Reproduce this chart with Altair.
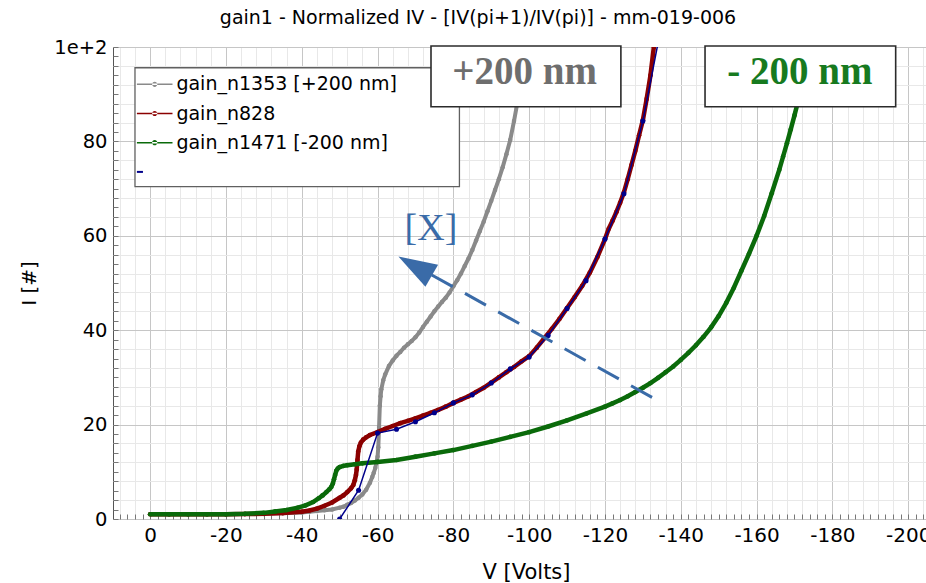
import altair as alt
import pandas as pd

TITLE = "gain1 - Normalized IV - [IV(pi+1)/IV(pi)] - mm-019-006"

SERIES = ["gain_n1353 [+200 nm]", "gain_n828", "gain_n1471 [-200 nm]", "fit"]
COLORS = ["#8a8a8a", "#8b0000", "#0a6a0a", "#00008b"]

# gain_n1353 [+200 nm]
gray_v = [0, -5, -10, -15, -20, -25, -30, -35, -40, -42, -44, -46, -48, -50, -51, -52,
          -53, -54, -55, -56, -57, -58, -58.6, -59, -59.4, -59.7, -60, -60.2, -60.4,
          -60.6, -60.8, -61, -61.5, -62, -63, -64, -65, -66, -67, -68, -69, -70, -71,
          -72, -73, -74, -75, -76, -77, -78, -79, -80, -81, -82, -83, -84, -85, -86,
          -87, -88, -89, -90, -91, -92, -93, -94, -95, -96, -97, -98, -99, -99.6]
gray_i = [1, 1, 1, 1, 1, 1.05, 1.1, 1.2, 1.4, 1.55, 1.7, 1.85, 2.0, 2.4, 2.6, 3.0,
          3.4, 3.9, 4.5, 5.2, 6.2, 7.7, 8.9, 9.8, 10.8, 12, 13.2, 15.2, 19.5,
          24, 26, 27.5, 29.4, 30.6, 32.4, 33.6, 34.6, 35.4, 36.3, 37, 37.7, 38.5, 39.5,
          40.7, 41.8, 42.9, 44, 45, 46, 46.9, 48, 49.3, 50.6, 52, 53.6, 55.2, 57, 59,
          61, 63, 65.2, 67.4, 69.7, 72, 74.5, 77.3, 80.3, 84.3, 88.7, 93, 97.5, 100]

# gain_n828
red_v = [0, -5, -10, -15, -20, -25, -30, -35, -40, -42, -44, -46, -48, -50, -51, -52,
         -53, -53.6, -54, -54.3, -54.5, -54.7, -54.9, -55.2, -55.6, -56.2, -57, -58,
         -60, -62, -64, -66, -68, -70, -72, -74, -76, -78, -80, -82, -84, -86, -88,
         -90, -92, -94, -96, -98, -100, -102, -104, -106, -108, -110, -112, -114, -116,
         -118, -120, -121, -122, -123, -124, -125, -126, -127, -128, -129, -130, -131,
         -132, -132.9]
red_i = [1, 1, 1, 1, 1, 1.05, 1.1, 1.25, 1.55, 1.8, 2.2, 2.8, 3.5, 4.5, 5.0, 5.7,
         6.5, 7.2, 8.2, 9.3, 10.5, 12.5, 14.3, 15.4, 16.2, 16.8, 17.3, 17.8,
         18.4, 19.1, 19.7, 20.3, 20.8, 21.3, 21.9, 22.5, 23.1, 23.8, 24.6, 25.3, 26.0,
         26.9, 27.8, 28.9, 30, 31.1, 32.2, 33.4, 34.5, 36.3, 38.3, 40.3, 42.4, 44.7, 47,
         49.4, 52.2, 55.5, 59.3, 61.5, 63.2, 65, 67, 69.2, 72, 75, 78, 81.3, 84.5, 89,
         94, 100]

# gain_n1471 [-200 nm]
green_v = [0, -5, -10, -15, -20, -25, -30, -33, -36, -39, -41, -43, -44.5, -45.5,
           -46.5, -47.3, -47.8, -48.2, -48.5, -48.8, -49.1, -49.5, -50, -51, -52, -54,
           -56, -60, -65, -70, -75, -80, -85, -90, -95, -100, -105, -110, -115, -120,
           -122, -124, -126, -128, -130, -132, -134, -136, -138, -140, -142, -144, -146,
           -148, -150, -152, -154, -156, -158, -160, -162, -164, -166, -167, -168, -169,
           -170, -171, -172, -173, -174, -174.3]
green_i = [1, 1, 1, 1, 1, 1.1, 1.3, 1.6, 1.9, 2.4, 2.9, 3.6, 4.4, 5.0,
           5.7, 6.3, 6.8, 7.5, 8.4, 9.3, 10.2, 10.7, 11.0, 11.25, 11.4, 11.6,
           11.8, 12.1, 12.5, 13.2, 13.9, 14.6, 15.5, 16.4, 17.4, 18.4, 19.6, 20.9, 22.3,
           23.8, 24.5, 25.2, 26, 26.9, 27.8, 28.8, 29.9, 31.1, 32.3, 33.7, 35.2, 36.8,
           38.6, 40.6, 43, 45.8, 49, 52.6, 56.2, 60, 64.2, 69, 74, 76.8, 79.6, 82.5,
           85.5, 88.7, 92, 95.5, 99, 100]

# fit through gain_n828
fit_v = [-50, -55, -60, -65, -70, -75, -80, -85, -90, -95, -100, -105, -110, -115,
         -120, -125, -130, -135]
fit_i = [0, 6.1, 18.2, 19.0, 20.6, 22.5, 24.6, 26.3, 28.8, 31.8, 34.3, 38.9, 44.6,
         50.5, 59.3, 68.9, 84.3, 105]

# annotations
box_text = ["+200 nm", "- 200 nm"]
box_color = ["#6e6e6e", "#177a1f"]
box_left = [-74.1, -146.4]
box_right = [-124.2, -196.7]
box_top = [100.2, 100.2]
box_bottom = [87.35, 87.35]
box_text_v = [-98.8, -171.4]
box_text_i = [92.1, 92.1]

legend_box = {"V": [4.0], "V2": [-81.6], "I": [95.6], "I2": [70.4]}

arrow_v = [-133.7, -74.3]
arrow_i = [25.2, 51.7]
arrow_head_v = [-69.9]
arrow_head_i = [53.6]
mark_x_label = "[X]"
mark_x_v = [-74.1]
mark_x_i = [59.1]

# heading placed above the plot frame
title_v = [-86.5]
title_i = [104.9]

ACCENT = "#3a6ba8"

frames = []
for name, vs, is_ in [(SERIES[0], gray_v, gray_i), (SERIES[1], red_v, red_i),
                      (SERIES[2], green_v, green_i), (SERIES[3], fit_v, fit_i)]:
    frames.append(pd.DataFrame({"series": name, "V": vs, "I": is_}))
curves = pd.concat(frames, ignore_index=True)

grid_color = {"condition": {"test": "datum.value % 20 === 0", "value": "#c6c6c6"},
              "value": "#e8e8e8"}
grid_opacity = {"condition": {"test": "datum.value % 4 !== 0", "value": 0}, "value": 1}

x_axis = alt.Axis(
    values=list(range(8, -206, -2)), orient="bottom", offset=-5, domain=False,
    tickSize=5, tickColor="#777", tickWidth=1,
    labelExpr="datum.value % 20 === 0 ? toString(datum.value) : ''",
    labelFont="DejaVu Sans", labelFontSize=20, labelColor="black", labelPadding=6,
    labelFlush=False, labelOverlap=False,
    grid=True, gridColor=grid_color, gridOpacity=grid_opacity, gridWidth=1,
    title="V [Volts]", titleFont="DejaVu Sans", titleFontSize=21,
    titleFontWeight="normal", titleColor="black", titlePadding=16, titleX=413,
    zindex=0,
)
y_axis = alt.Axis(
    values=list(range(0, 101, 2)), orient="left", offset=-5, domain=False,
    tickSize=5, tickColor="#777", tickWidth=1,
    labelExpr="datum.value === 100 ? '1e+2' : (datum.value % 20 === 0 ? toString(datum.value) : '')",
    labelFont="DejaVu Sans", labelFontSize=19.5, labelColor="black", labelPadding=6,
    labelFlush=False, labelOverlap=False,
    grid=True, gridColor=grid_color, gridOpacity=grid_opacity, gridWidth=1,
    title="I [#]", titleFont="DejaVu Sans", titleFontSize=20,
    titleFontWeight="normal", titleColor="black", titlePadding=14,
    zindex=0,
)

X = alt.X("V:Q", scale=alt.Scale(domain=[9.8, -204.7], nice=False, zero=False), axis=x_axis)
Y = alt.Y("I:Q", scale=alt.Scale(domain=[0, 100], nice=False, zero=False), axis=y_axis)

layers = []
styles = {
    SERIES[0]: (4.0, 20),
    SERIES[1]: (4.5, 22),
    SERIES[2]: (4.5, 22),
    SERIES[3]: (1.5, 26),
}
for name, color in zip(SERIES, COLORS):
    width, size = styles[name]
    base = alt.Chart(curves).transform_filter(alt.datum.series == name)
    layers.append(base.mark_line(color=color, strokeWidth=width, clip=True)
                  .encode(x=X, y=Y))
    layers.append(base.mark_circle(color=color, size=size, opacity=1, clip=True)
                  .encode(x=X, y=Y))

# legend symbols: short line with a dot, and a small dash for the fit
LINE_DOT = ("M-1,-0.045L1,-0.045L1,0.045L-1,0.045Z "
            "M-0.146,0A0.146,0.146,0,1,0,0.146,0A0.146,0.146,0,1,0,-0.146,0Z")
DASH = "M-1,-0.056L-0.66,-0.056L-0.66,0.056L-1,0.056Z"
SHAPES = [LINE_DOT, LINE_DOT, LINE_DOT, DASH]

legend = alt.Legend(
    title=None, orient="none", legendX=23.7, legendY=19.3, padding=0,
    symbolSize=1267, symbolStrokeWidth=0, symbolOpacity=1,
    labelFont="DejaVu Sans", labelFontSize=19, labelColor="black",
    labelOffset=3.7, rowPadding=1.2, labelLimit=400,
    labelExpr="datum.label === 'fit' ? '' : datum.label",
)

# legend background
layers.append(
    alt.Chart(pd.DataFrame(legend_box))
    .mark_rect(fill="white", stroke="#606060", strokeWidth=1.3)
    .encode(x=X, x2="V2:Q", y=Y, y2="I2:Q")
)

legend_rows = pd.DataFrame({"series": SERIES, "V": [0] * 4, "I": [50] * 4})
layers.append(
    alt.Chart(legend_rows)
    .mark_point(filled=True, opacity=0)
    .encode(
        x=X, y=Y,
        color=alt.Color("series:N", scale=alt.Scale(domain=SERIES, range=COLORS), legend=legend),
        shape=alt.Shape("series:N", scale=alt.Scale(domain=SERIES, range=SHAPES), legend=legend),
    )
)

# dashed arrow with its head and label
layers.append(
    alt.Chart(pd.DataFrame({"V": arrow_v, "I": arrow_i}))
    .mark_line(color=ACCENT, strokeWidth=3, strokeDash=[24, 14])
    .encode(x=X, y=Y)
)
layers.append(
    alt.Chart(pd.DataFrame({"V": arrow_head_v, "I": arrow_head_i}))
    .mark_point(shape="M0,-1L0.66,1L-0.66,1Z", filled=True, color=ACCENT, opacity=1,
                size=1482, angle=300, strokeWidth=0)
    .encode(x=X, y=Y)
)
layers.append(
    alt.Chart(pd.DataFrame({"V": mark_x_v, "I": mark_x_i, "t": [mark_x_label]}))
    .mark_text(font="Liberation Serif", fontSize=38, color=ACCENT, align="center",
               baseline="alphabetic")
    .encode(x=X, y=Y, text="t:N")
)

# boxed labels
boxes = pd.DataFrame({"V": box_left, "V2": box_right, "I": box_top, "I2": box_bottom})
layers.append(
    alt.Chart(boxes)
    .mark_rect(fill="white", stroke="#2b2b2b", strokeWidth=1.6)
    .encode(x=X, x2="V2:Q", y=Y, y2="I2:Q")
)
layers.append(
    alt.Chart(pd.DataFrame({"V": box_text_v, "I": box_text_i, "t": box_text, "c": box_color}))
    .mark_text(font="Liberation Serif", fontWeight="bold", fontSize=39, align="center",
               baseline="alphabetic")
    .encode(x=X, y=Y, text="t:N", color=alt.Color("c:N", scale=None))
)

# chart heading
layers.append(
    alt.Chart(pd.DataFrame({"V": title_v, "I": title_i, "t": [TITLE]}))
    .mark_text(font="DejaVu Sans", fontSize=19, color="black", align="center",
               baseline="alphabetic", clip=False)
    .encode(x=X, y=Y, text="t:N")
)

chart = (
    alt.layer(*layers)
    .properties(
        width=813, height=472,
        autosize=alt.AutoSizeParams(type="none"),
        padding={"left": 113, "top": 47, "right": 0, "bottom": 64},
        background="white",
    )
    .configure_view(stroke="#555", strokeWidth=1)
)

chart.save("out.html", embed_options={"renderer": "svg", "actions": False})
